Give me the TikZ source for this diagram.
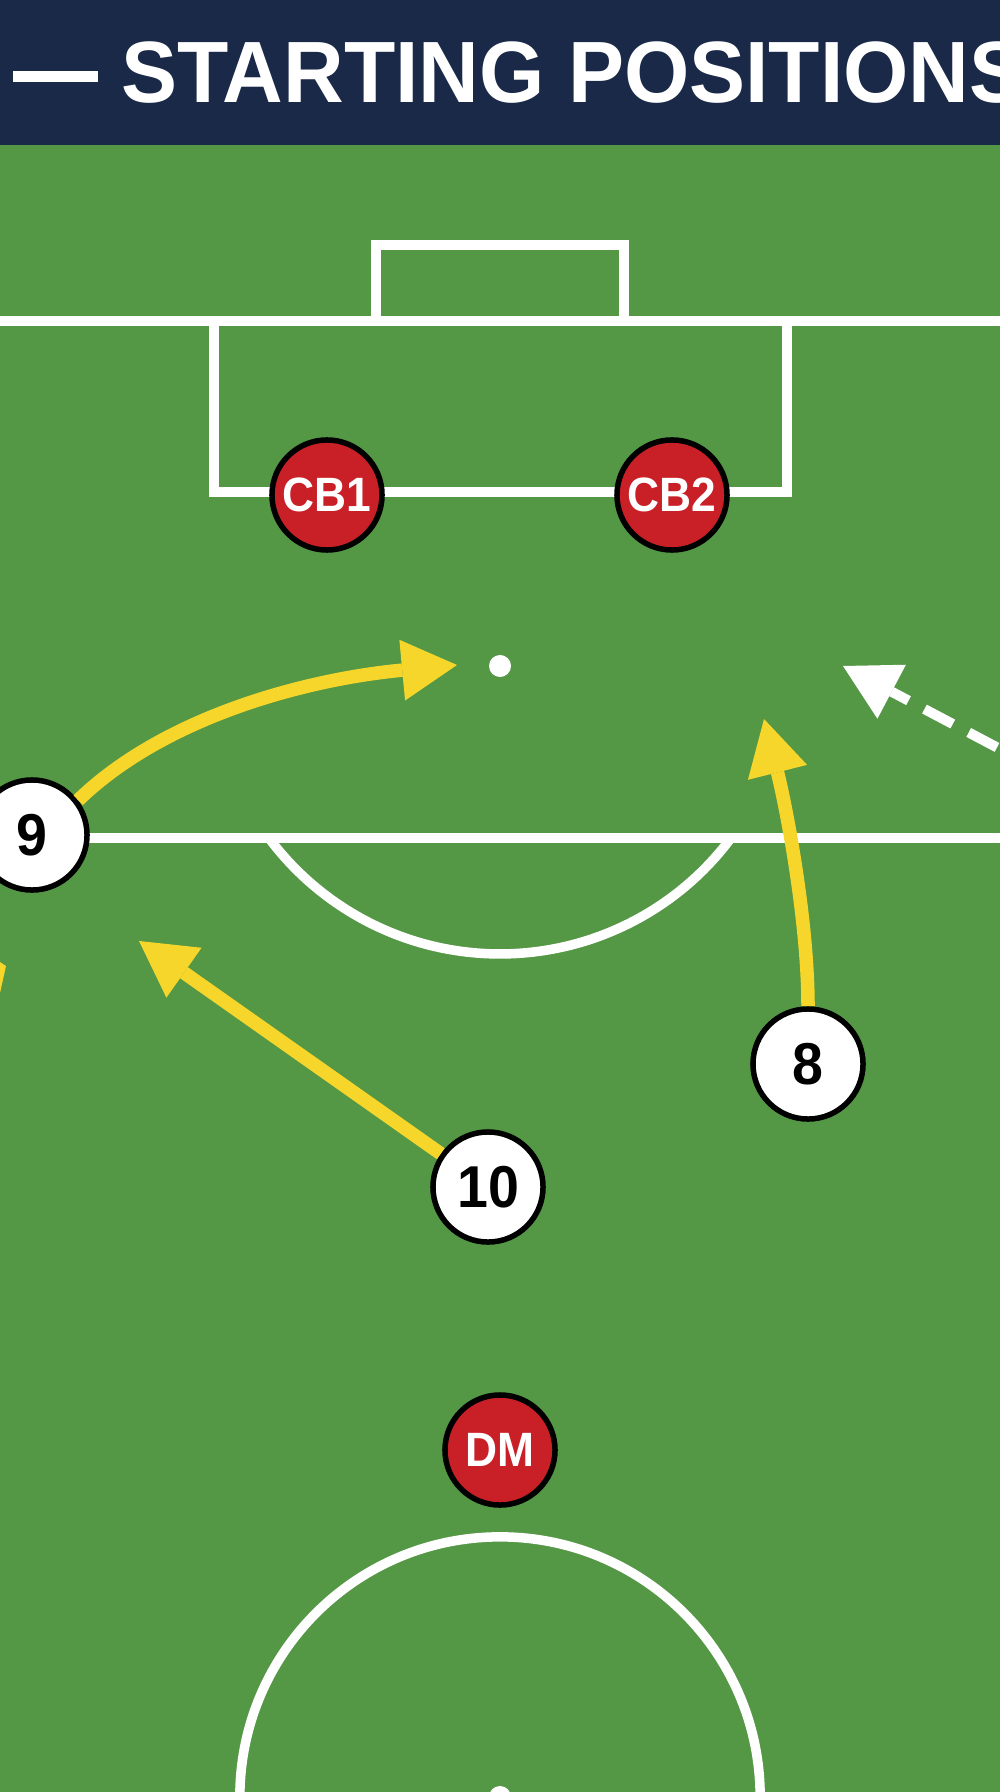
\documentclass[tikz,border=0pt]{standalone}
\usepackage{fontspec}
\setmainfont{Liberation Sans}
\usepackage{graphicx}
\usetikzlibrary{arrows.meta}
\definecolor{pitch}{RGB}{84,151,69}
\definecolor{navy}{RGB}{26,41,72}
\definecolor{cardred}{RGB}{201,32,40}
\definecolor{runyellow}{RGB}{247,214,44}
\begin{document}
\begin{tikzpicture}[x=0.01cm,y=0.01cm,
  fieldline/.style={draw=white,line width=0.095cm},
  player/.style={circle,draw=black,line width=0.055cm,fill=white,minimum size=1.10cm,inner sep=0pt,
    font=\fontsize{16.8pt}{16.8pt}\selectfont\bfseries,text=black},
  opponent/.style={player,fill=cardred,text=white,font=\fontsize{13.7pt}{13.7pt}\selectfont\bfseries},
  tiphead/.style={-{Triangle[length=0.55cm,width=0.61cm,line width=0pt]}},
  run/.style={draw=runyellow,line width=0.135cm,tiphead},
  dashrun/.style={draw=white,line width=0.10cm,dash pattern=on 0.32cm off 0.18cm,dash phase=0.353cm,tiphead}
]
\useasboundingbox (0,0) rectangle (1000,-1792);
\clip (0,0) rectangle (1000,-1792);
% backgrounds
\fill[pitch] (0,-145) rectangle (1000,-1792);
\fill[navy] (0,0) rectangle (1000,-145);
% header
\fill[white] (13,-71) rectangle (98,-82);
\node[anchor=base west,inner sep=0pt,text=white,font=\fontsize{24.75pt}{25pt}\selectfont\bfseries] (title) at (121,-103) {\scalebox{0.965}[1]{STARTING POSITIONS}};
% field lines
\draw[fieldline] (0,-321) -- (1000,-321);
\draw[fieldline] (376,-321) -- (376,-245) -- (624,-245) -- (624,-321);
\draw[fieldline] (214,-321) -- (214,-492) -- (787,-492) -- (787,-321);
\fill[white] (500,-666) circle[radius=0.11cm];
\draw[fieldline] (0,-838) -- (1000,-838);
\draw[fieldline] (731,-838) arc[start angle=-36.7,end angle=-143.3,radius=2.88cm];
\draw[fieldline] (500,-1797) circle[radius=2.60cm];
\fill[white] (500,-1797) circle[radius=0.11cm];
% players
\node[opponent] (cb1) at (327,-495) {\scalebox{0.92}[1]{CB1}};
\node[opponent] (cb2) at (672,-495) {\scalebox{0.92}[1]{CB2}};
\node[opponent] (dm) at (500,-1450) {\scalebox{0.92}[1]{DM}};
\node[player] (n9) at (32,-835) {\scalebox{0.94}[1]{9}};
\node[player] (n8) at (808,-1064) {\scalebox{0.94}[1]{8}};
\node[player] (n10) at (488,-1187) {\scalebox{0.94}[1]{10}};
% run targets
\coordinate (t9) at (457,-665);
\coordinate (t8) at (764,-719);
\coordinate (t10) at (139,-941);
\coordinate (ws) at (1010,-754.3);
\coordinate (wt) at (843,-666);
% runs
\draw[run] (n9.37) .. controls (165,-716) and (308,-679) .. (t9);
\draw[run] (n8.north) .. controls (808,-920) and (786,-806) .. (t8);
\draw[run] (n10) -- (t10);
\draw[dashrun] (ws) -- (wt);
\fill[runyellow] (0,-962) -- (6,-966) -- (0,-993) -- cycle;
\end{tikzpicture}
\end{document}
